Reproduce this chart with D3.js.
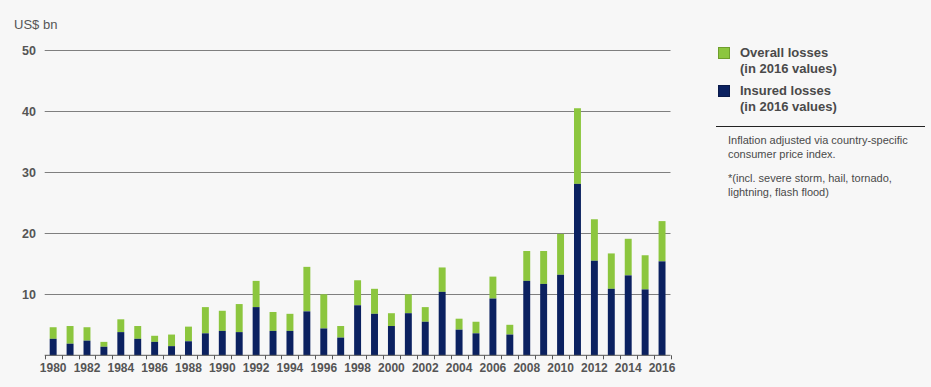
<!DOCTYPE html>
<html>
<head>
<meta charset="utf-8">
<script src="https://cdn.jsdelivr.net/npm/d3@7"></script>
<style>
  html, body { margin: 0; padding: 0; background: #f7f7f7; }
  svg { display: block; font-family: "Liberation Sans", Arial, sans-serif; }
</style>
</head>
<body>
<svg id="chart" width="931" height="387"></svg>
<script>
const years = d3.range(1980, 2017);
const overallLosses = [4.6, 4.8, 4.6, 2.2, 5.9, 4.8, 3.2, 3.4, 4.7, 7.9, 7.3, 8.4,
  12.2, 7.1, 6.8, 14.5, 10.0, 4.8, 12.3, 10.9, 6.9, 10.0, 7.9, 14.4, 6.0, 5.5,
  12.9, 5.0, 17.1, 17.1, 19.9, 40.5, 22.3, 16.7, 19.1, 16.4, 22.0];
const insuredLosses = [2.7, 1.9, 2.4, 1.4, 3.8, 2.7, 2.2, 1.5, 2.3, 3.6, 4.0, 3.8,
  7.9, 4.0, 4.0, 7.2, 4.4, 2.9, 8.2, 6.8, 4.8, 6.9, 5.5, 10.4, 4.2, 3.6,
  9.3, 3.4, 12.2, 11.7, 13.2, 28.1, 15.5, 10.9, 13.1, 10.8, 15.4];
const yTicks = [10, 20, 30, 40, 50];
const xTickLabels = d3.range(1980, 2017, 2);
const legendItems = [
  { label: ["Overall losses", "(in 2016 values)"], color: "#8cc63e", stroke: "#6f9e2c" },
  { label: ["Insured losses", "(in 2016 values)"], color: "#0b2160", stroke: "#0a1a4a" }
];
const notes = ["Inflation adjusted via country-specific", "consumer price index.", "",
  "*(incl. severe storm, hail, tornado,", "lightning, flash flood)"];

const svg = d3.select("#chart");
const left = 44.7, right = 670.5, base = 355.3, topY = 50.3;

const x = d3.scaleBand().domain(years).range([left, right]).paddingInner(0.59).paddingOuter(0.295);
const y = d3.scaleLinear().domain([0, 50]).range([base, topY]);

// gridlines
svg.append("g").selectAll("line").data(yTicks).join("line")
  .attr("x1", left).attr("x2", right)
  .attr("y1", d => Math.round(y(d)) + 0.5).attr("y2", d => Math.round(y(d)) + 0.5)
  .attr("stroke", "#7f7f7f").attr("stroke-width", 1);

// y labels
svg.append("g").selectAll("text").data(yTicks).join("text")
  .attr("x", 36).attr("y", d => y(d) + 4.5)
  .attr("text-anchor", "end").attr("font-size", 12.5).attr("font-weight", "bold")
  .attr("fill", "#555").text(d => d);

svg.append("text").attr("x", 14).attr("y", 29).attr("font-size", 13)
  .attr("fill", "#555").text("US$ bn");

// bars
const bars = svg.append("g");
bars.selectAll("rect.overall").data(years).join("rect").attr("class", "overall")
  .attr("x", d => x(d)).attr("width", x.bandwidth())
  .attr("y", (d, i) => y(overallLosses[i]))
  .attr("height", (d, i) => y(insuredLosses[i]) - y(overallLosses[i]))
  .attr("fill", "#8cc63e");
bars.selectAll("rect.insured").data(years).join("rect").attr("class", "insured")
  .attr("x", d => x(d)).attr("width", x.bandwidth())
  .attr("y", (d, i) => y(insuredLosses[i]))
  .attr("height", (d, i) => base - y(insuredLosses[i]))
  .attr("fill", "#0b2160");

// x axis
const step = x.step();
const xAxis = svg.append("g");
xAxis.append("line").attr("x1", left).attr("x2", right)
  .attr("y1", base).attr("y2", base).attr("stroke", "#555").attr("stroke-width", 1);
xAxis.selectAll("line.tick").data(d3.range(0, years.length + 1)).join("line").attr("class", "tick")
  .attr("x1", i => Math.round(left + i * step) + 0.5).attr("x2", i => Math.round(left + i * step) + 0.5)
  .attr("y1", base).attr("y2", base + 4).attr("stroke", "#555");
xAxis.selectAll("text").data(xTickLabels).join("text")
  .attr("x", d => x(d) + x.bandwidth() / 2).attr("y", 372)
  .attr("text-anchor", "middle").attr("font-size", 12).attr("font-weight", "bold")
  .attr("fill", "#555").text(d => d);

// legend
const lg = svg.append("g");
legendItems.forEach((it, i) => {
  const y0 = 47 + i * 38;
  lg.append("rect").attr("x", 718.5).attr("y", y0 + 0.5).attr("width", 11).attr("height", 11)
    .attr("fill", it.color).attr("stroke", it.stroke);
  it.label.forEach((t, j) => {
    lg.append("text").attr("x", 740).attr("y", y0 + 10 + j * 15.5)
      .attr("font-size", 13).attr("font-weight", "bold").attr("fill", "#4a4a4a").text(t);
  });
});
lg.append("line").attr("x1", 716).attr("x2", 925).attr("y1", 126.5).attr("y2", 126.5)
  .attr("stroke", "#222").attr("stroke-width", 1);
const noteY = [144, 158, 0, 182, 196];
notes.forEach((t, i) => {
  if (!t) return;
  lg.append("text").attr("x", 728).attr("y", noteY[i]).attr("font-size", 11)
    .attr("fill", "#4a4a4a").text(t);
});
</script>
</body>
</html>
